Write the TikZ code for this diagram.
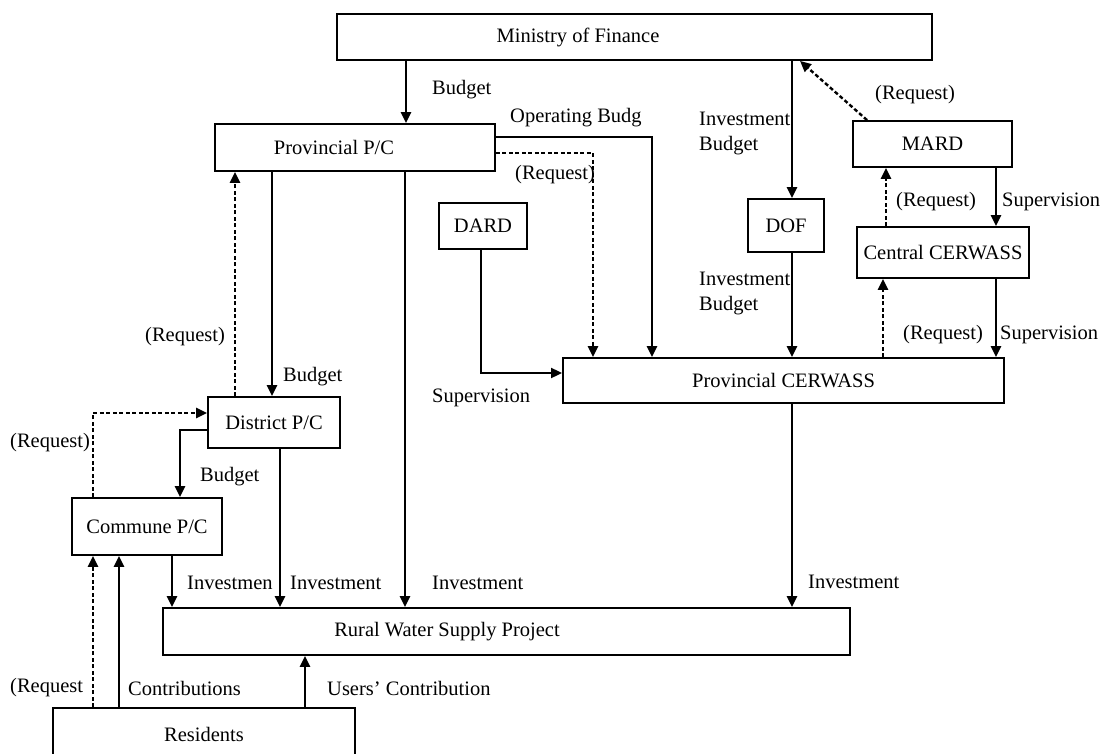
\documentclass[tikz,border=0pt]{standalone}
\usepackage{fontspec}
\setmainfont{Liberation Serif}
\usetikzlibrary{arrows.meta}

\begin{document}
\begin{tikzpicture}[x=1pt, y=-1pt,
        every node/.style={font=\fontsize{20.5}{25}\selectfont},
        box/.style={draw, line width=1.8pt, inner sep=0pt},
        flow/.style={line width=2.4pt, -{Triangle[length=11pt,width=10pt]}},
        req/.style={flow, dash pattern=on 4pt off 2.5pt},
        lbl/.style={anchor=west, inner sep=0pt, align=left}]
        \useasboundingbox (0,0) rectangle (1102,754);

        % boxes
        \node[box, minimum width=595pt, minimum height=46pt] (mof) at (634.5,37) {};
        \node (mofText) at (578,37) {Ministry of Finance};
        \node[box, minimum width=280pt, minimum height=47pt] (ppc) at (355,147.5) {};
        \node (ppcText) at (334,147.5) {Provincial P/C};
        \node[box, minimum width=441pt, minimum height=45pt] (pcw) at (783.5,380.5) {Provincial CERWASS};
        \node[box, minimum width=88pt, minimum height=46pt] (dard) at (483,226) {DARD};
        \node[box, minimum width=76pt, minimum height=53pt] (dof) at (786,225.5) {DOF};
        \node[box, minimum width=159pt, minimum height=46pt] (mard) at (932.5,144) {MARD};
        \node[box, minimum width=172pt, minimum height=51pt] (cc) at (943,252.5) {Central CERWASS};
        \node[box, minimum width=132pt, minimum height=51pt] (dpc) at (274,422.5) {District P/C};
        \node[box, minimum width=150pt, minimum height=57pt] (com) at (147,526.5) {Commune P/C};
        \node[box, minimum width=687pt, minimum height=47pt] (rws) at (506.5,631.5) {};
        \node (rwsText) at (447,631.5) {Rural Water Supply Project};
        \node[box, minimum width=302pt, minimum height=52pt] (res) at (204,734) {Residents};

        % central level
        \draw[flow] (mof.south -| 406,0) -- (ppc.north -| 406,0);
        \draw[flow] (ppc.east |- 0,137) -| (pcw.north -| 652,0);
        \draw[req] (ppc.east |- 0,153) -| (pcw.north -| 593,0);
        \draw[flow] (mof.south -| 792,0) -- (dof.north -| 792,0);
        \draw[req] (mard.north -| 867,0) -- (mof.south -| 800,0);
        \draw[flow] (dof.south -| 792,0) -- (pcw.north -| 792,0);
        \draw[flow] (mard.south -| 996,0) -- (cc.north -| 996,0);
        \draw[req] (cc.north -| 886,0) -- (mard.south -| 886,0);
        \draw[flow] (cc.south -| 996,0) -- (pcw.north -| 996,0);
        \draw[req] (pcw.north -| 883,0) -- (cc.south -| 883,0);
        \draw[flow, line width=1.8pt] (dard.south -| 481,0) |- (pcw.west |- 0,373);

        % local level
        \draw[flow] (ppc.south -| 272,0) -- (dpc.north -| 272,0);
        \draw[req] (dpc.north -| 235,0) -- (ppc.south -| 235,0);
        \draw[req] (com.north -| 93,0) |- (dpc.west |- 0,413);
        \draw[flow] (dpc.west |- 0,430) -| (com.north -| 180,0);
        \draw[flow] (com.south -| 172,0) -- (rws.north -| 172,0);
        \draw[flow] (dpc.south -| 280,0) -- (rws.north -| 280,0);
        \draw[flow] (ppc.south -| 405,0) -- (rws.north -| 405,0);
        \draw[flow] (pcw.south -| 792,0) -- (rws.north -| 792,0);
        \draw[req] (res.north -| 93,0) -- (com.south -| 93,0);
        \draw[flow] (res.north -| 119,0) -- (com.south -| 119,0);
        \draw[flow] (res.north -| 305,0) -- (rws.south -| 305,0);

        % labels
        \node[lbl] (lBud1) at (432,90) {Budget};
        \node[lbl] (lOper) at (510,118) {Operating Budg};
        \node[lbl] (lReq1) at (515,175) {(Request)};
        \node[lbl] (lInv1) at (699,134) {Investment\\Budget};
        \node[lbl] (lReq2) at (875,95) {(Request)};
        \node[lbl] (lReq3) at (896,202) {(Request)};
        \node[lbl] (lSup1) at (1002,202) {Supervision};
        \node[lbl] (lInv2) at (699,293) {Investment\\Budget};
        \node[lbl] (lReq4) at (903,335) {(Request)};
        \node[lbl] (lSup2) at (1000,335) {Supervision};
        \node[lbl] (lSup3) at (432,398) {Supervision};
        \node[lbl] (lReq5) at (145,337) {(Request)};
        \node[lbl] (lBud2) at (283,377) {Budget};
        \node[lbl] (lReq6) at (10,443) {(Request)};
        \node[lbl] (lBud3) at (200,477) {Budget};
        \node[lbl] (lInv3) at (187,583) {Investmen};
        \node[lbl] (lInv4) at (290,583) {Investment};
        \node[lbl] (lInv5) at (432,583) {Investment};
        \node[lbl] (lInv6) at (808,582) {Investment};
        \node[lbl] (lReq7) at (10,688) {(Request};
        \node[lbl] (lCont) at (128,688) {Contributions};
        \node[lbl] (lUser) at (327,688) {Users' Contribution};
    \end{tikzpicture}
\end{document}
